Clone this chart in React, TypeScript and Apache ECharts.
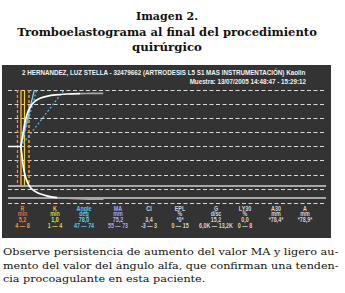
import React, { useEffect, useRef } from "react";
import * as echarts from "echarts";

// ---------- data ----------
const titleLines = ["Imagen 2.", "Tromboelastograma al final del procedimiento", "quirúrgico"];
const headerLine1 = "2 HERNANDEZ, LUZ STELLA - 32479662 (ARTRODESIS L5 S1 MAS INSTRUMENTACIÓN) Kaolin";
const headerLine2 = "Muestra: 13/07/2005 14:48:47 - 15:29:12";
const captionLines = [
  "Observe persistencia de aumento del valor MA y ligero au-",
  "mento del valor del ángulo alfa, que confirman una tenden-",
  "cia procoagulante en esta paciente.",
];

// time (min) vs amplitude (mm)
const baselineTime = [0.8, 5.2];
const baselineAmp = [0, 0];
const upperTime = [5.2, 5.5, 6.0, 6.6, 7.2, 7.8, 8.6, 9.5, 10.5, 12, 14, 17, 21, 25.5];
const upperAmp = [0, 8, 20, 34, 44, 51, 57, 62, 65.5, 68.7, 71, 73, 74.3, 74.9];
const upperTailTime = [25.5, 29, 33.4];
const upperTailAmp = [74.9, 75.1, 75.2];
const lowerTime = [5.2, 5.5, 6.05, 6.6, 7.2, 8.0, 8.9, 10.6, 12.5, 15.2, 17.6];
const lowerAmp = [0, -10, -29, -40, -48, -55, -60, -64.8, -68, -70.9, -72.3];
const lowerTailTime = [17.6, 20.9, 25, 29, 33.5];
const lowerTailAmp = [-72.3, -73.3, -74, -74.4, -74.7];

const rRange = [4, 8];
const rValue = 5.2;
const kMark = 6.2;
const maRange = [55, 73];
const ampTop = 80;
const angleSolidEnd = [9.8, 80];
const angleDottedEnds = [
  [10.6, 80],
  [20, 80],
];

const paramNames = ["R", "K", "Angle", "MA", "CI", "EPL", "G", "LY30", "A30", "A"];
const paramUnits = ["min", "min", "deg", "mm", "", "%", "d/sc", "%", "mm", "mm"];
const paramValues = ["5,2", "1,0", "78,0", "75,2", "3,4", "*0*", "15,2", "0,0", "*78,4*", "*78,9*"];
const paramRanges = ["4 — 8", "1 — 4", "47 — 74", "55 — 73", "-3 — 3", "0 — 15", "6,0K — 13,2K", "0 — 8", "", ""];

// ---------- layout / style ----------
const paramX = [22.5, 55, 84, 118, 149, 180, 216, 245, 276, 305];
const paramRowY = [208.5, 214, 219.5, 226];
const paramColors = [
  ["#d9904a", "#d9704a", "#ff7a3a", "#f39a3a"],
  ["#cfd24a", "#cfd24a", "#e2e25a", "#d6d64a"],
  ["#5cc4ef", "#5cc4ef", "#6fd0f5", "#5cc4ef"],
  ["#a6a6ea", "#a6a6ea", "#b4b4f0", "#a6a6ea"],
];
const grayText = "#d2d2d2";

function zip(a: number[], b: number[]) {
  return a.map((v, i) => [v, b[i]]);
}

let ctx: CanvasRenderingContext2D | null = null;
function measure(text: string, font: string) {
  if (!ctx) ctx = document.createElement("canvas").getContext("2d");
  if (!ctx) return 1;
  ctx.font = font;
  return ctx.measureText(text).width || 1;
}

export default function App() {
  const ref = useRef<HTMLDivElement>(null);
  useEffect(() => {
    if (!ref.current) return;
    const chart = echarts.init(ref.current, undefined, { renderer: "svg" });

    const graphics: any[] = [];
    graphics.push({
      type: "rect",
      z: -10,
      shape: { x: 2, y: 65, width: 329, height: 173 },
      style: { fill: "#333333" },
    });

    // title
    const titleFont = { fontFamily: "DejaVu Serif", fontWeight: "bold", fontSize: 11 };
    const titleW = [62, 300, 70];
    const titleY = [17, 32, 47];
    titleLines.forEach((t, i) => {
      const w = measure(t, `bold 11px "DejaVu Serif"`);
      graphics.push({
        type: "text",
        x: 167,
        y: titleY[i],
        scaleX: titleW[i] / w,
        style: { text: t, fill: "#111", textAlign: "center", textVerticalAlign: "middle", ...titleFont },
      });
    });

    // header
    const hFont = `bold 8px "Liberation Sans"`;
    const h1s = 284 / measure(headerLine1, hFont);
    graphics.push({
      type: "text",
      x: 22,
      y: 72.5,
      scaleX: h1s,
      style: {
        text: headerLine1,
        fill: "#f2f2f2",
        fontFamily: "Liberation Sans",
        fontWeight: "bold",
        fontSize: 8,
        textAlign: "left",
        textVerticalAlign: "middle",
      },
    });
    graphics.push({
      type: "text",
      x: 306,
      y: 82,
      scaleX: h1s,
      style: {
        text: headerLine2,
        fill: "#f2f2f2",
        fontFamily: "Liberation Sans",
        fontWeight: "bold",
        fontSize: 8,
        textAlign: "right",
        textVerticalAlign: "middle",
      },
    });

    // parameter table
    paramNames.forEach((name, c) => {
      const rows = [name, paramUnits[c], paramValues[c], paramRanges[c]];
      rows.forEach((t, r) => {
        if (!t) return;
        const color = c < 4 ? paramColors[c][r] : grayText;
        graphics.push({
          type: "text",
          x: paramX[c],
          y: paramRowY[r],
          scaleX: 0.85,
          style: {
            text: t,
            fill: color,
            fontFamily: "Liberation Sans",
            fontWeight: "bold",
            fontSize: 6.3,
            textAlign: "center",
            textVerticalAlign: "middle",
          },
        });
      });
    });

    // caption
    const cFont = `10px "DejaVu Serif"`;
    const capY = [252, 265.5, 279];
    const s1 = 336 / measure(captionLines[0], cFont);
    const s2 = 336 / measure(captionLines[1], cFont);
    const sc = [s1, s2, (s1 + s2) / 2];
    captionLines.forEach((t, i) => {
      graphics.push({
        type: "text",
        x: 3,
        y: capY[i],
        scaleX: sc[i],
        style: {
          text: t,
          fill: "#111",
          fontFamily: "DejaVu Serif",
          fontSize: 10,
          textAlign: "left",
          textVerticalAlign: "middle",
        },
      });
    });

    const seg = (x1: number, y1: number, x2: number, y2: number, lineStyle: any) => [
      { coord: [x1, y1], lineStyle },
      { coord: [x2, y2] },
    ];
    const orangeDash = { color: "#f0902a", width: 1.3, type: [3, 2] };
    const markData: any[] = [
      seg(rRange[0], ampTop, rRange[0], -maRange[0], orangeDash),
      seg(rRange[1], ampTop, rRange[1], -maRange[0], { ...orangeDash, width: 1.6 }),
      seg(rValue, ampTop, rValue, -maRange[0], { color: "#f5a040", width: 1.5, type: "solid" }),
      seg(kMark, ampTop, kMark, -maRange[0], { color: "#e6cf4a", width: 1.2, type: "solid" }),
      seg(rValue, 0, angleSolidEnd[0], angleSolidEnd[1], { color: "#8fd0ee", width: 1.2, type: "solid" }),
      ...angleDottedEnds.map((e) =>
        seg(rValue, 0, e[0], e[1], { color: "#4fb8e6", width: 1.3, type: [2, 2] })
      ),
      { yAxis: -maRange[0], lineStyle: { color: "#cfcfcf", width: 1.5, type: "solid" } },
      { yAxis: -maRange[1], lineStyle: { color: "#cfcfcf", width: 1.5, type: "solid" } },
    ];

    const curve = (data: number[][], color: string) => ({
      type: "line",
      data,
      showSymbol: false,
      smooth: 0.3,
      silent: true,
      lineStyle: { color, width: 1.7 },
      z: 5,
    });

    chart.setOption({
      animation: false,
      backgroundColor: "#ffffff",
      graphic: { elements: graphics },
      grid: { left: 8, top: 90, width: 318, height: 113, containLabel: false },
      xAxis: {
        type: "value",
        min: 0.8,
        max: 109.7,
        axisLine: { show: false },
        axisTick: { show: false },
        axisLabel: { show: false },
        splitLine: { show: false },
      },
      yAxis: {
        type: "value",
        min: -80,
        max: 80,
        interval: 20,
        axisLine: { show: false },
        axisTick: { show: false },
        axisLabel: { show: false },
        splitLine: { show: true, lineStyle: { color: "#dadada", width: 1, type: [4, 2.5] } },
      },
      series: [
        {
          type: "line",
          data: [],
          silent: true,
          z: 3,
          markLine: { symbol: ["none", "none"], silent: true, label: { show: false }, data: markData },
        },
        curve(zip(baselineTime, baselineAmp), "#ffffff"),
        curve(zip(upperTime, upperAmp), "#ffffff"),
        curve(zip(upperTailTime, upperTailAmp), "#a8a8a8"),
        curve(zip(lowerTime, lowerAmp), "#ffffff"),
        curve(zip(lowerTailTime, lowerTailAmp), "#a8a8a8"),
      ],
    });
    return () => chart.dispose();
  }, []);
  return (
    <div
      ref={ref}
      style={{ position: "fixed", left: 0, top: 0, width: 345, height: 293, background: "#fff" }}
    />
  );
}
